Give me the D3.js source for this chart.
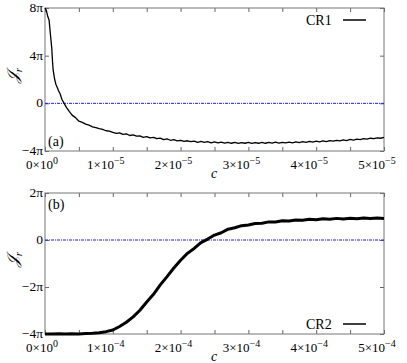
<!DOCTYPE html>
<html>
<head>
<meta charset="utf-8">
<script src="https://cdn.jsdelivr.net/npm/d3@7"></script>
<style>
  body { margin: 0; background: #fff; }
  text { font-family: "Liberation Serif", "DejaVu Serif", serif; }
</style>
</head>
<body>
<svg width="407" height="363"></svg>
<script>
    var width = 407;
    var height = 363;

    // panel (a): CR1, c in units of 1e-5, J in units of pi
    var cr1C = [0, 0.02, 0.04, 0.06, 0.07, 0.08, 0.09, 0.10, 0.11, 0.12, 0.14, 0.16, 0.18, 0.20, 0.22, 0.25,
      0.28, 0.32, 0.36, 0.40, 0.45, 0.50, 0.55, 0.60, 0.65, 0.70, 0.75, 0.80, 0.85, 0.90, 0.95,
      1.00, 1.05, 1.10, 1.15, 1.20, 1.25, 1.30, 1.35, 1.40, 1.45, 1.50, 1.55, 1.60, 1.65, 1.70, 1.75, 1.80, 1.85, 1.90, 1.95,
      2.00, 2.05, 2.10, 2.15, 2.20, 2.25, 2.30, 2.35, 2.40, 2.45, 2.50, 2.55, 2.60, 2.65, 2.70, 2.75, 2.80, 2.85, 2.90, 2.95,
      3.00, 3.05, 3.10, 3.15, 3.20, 3.25, 3.30, 3.35, 3.40, 3.45, 3.50, 3.55, 3.60, 3.65, 3.70, 3.75, 3.80, 3.85, 3.90, 3.95,
      4.00, 4.05, 4.10, 4.15, 4.20, 4.25, 4.30, 4.35, 4.40, 4.45, 4.50, 4.55, 4.60, 4.65, 4.70, 4.75, 4.80, 4.85, 4.90, 4.95, 5.00];
    var cr1J = [8.0, 7.8, 7.3, 7.0, 6.4, 5.8, 5.2, 4.6, 3.6, 2.8, 2.1, 1.6, 1.35, 1.05, 0.85, 0.32,
      0.02, -0.38, -0.7, -0.99, -1.2, -1.5, -1.6, -1.75, -1.83, -1.97, -2.03, -2.12, -2.19, -2.3, -2.33,
      -2.44, -2.52, -2.48, -2.60, -2.57, -2.70, -2.64, -2.76, -2.73, -2.85, -2.80, -2.90, -2.86, -2.97, -2.92, -3.04, -2.98, -3.10, -3.05, -3.15,
      -3.10, -3.20, -3.14, -3.22, -3.17, -3.27, -3.20, -3.28, -3.22, -3.31, -3.24, -3.32, -3.26, -3.34, -3.27, -3.35, -3.28, -3.36, -3.29, -3.35,
      -3.28, -3.36, -3.29, -3.35, -3.27, -3.35, -3.28, -3.34, -3.26, -3.34, -3.27, -3.32, -3.25, -3.31, -3.23, -3.29, -3.22, -3.28, -3.20, -3.26,
      -3.18, -3.24, -3.15, -3.21, -3.12, -3.18, -3.10, -3.15, -3.06, -3.12, -3.03, -3.08, -3.00, -3.05, -2.96, -3.01, -2.93, -2.97, -2.89, -2.93, -2.86];

    // panel (b): CR2, c in units of 1e-4, J in units of pi
    var cr2C = [0, 0.1, 0.2, 0.3, 0.4, 0.5, 0.6, 0.7, 0.8, 0.9, 1.0, 1.1, 1.2, 1.3, 1.4, 1.5, 1.6, 1.7, 1.8, 1.9,
      2.0, 2.1, 2.2, 2.3, 2.4, 2.5, 2.6, 2.7, 2.8, 2.9, 3.0, 3.1, 3.2, 3.3, 3.4, 3.5, 3.6, 3.7, 3.8, 3.9,
      4.0, 4.1, 4.2, 4.3, 4.4, 4.5, 4.6, 4.7, 4.8, 4.9, 5.0];
    var cr2J = [-4.0, -4.0, -3.99, -4.0, -3.99, -4.0, -3.98, -3.97, -3.95, -3.9, -3.83, -3.68, -3.5, -3.27, -2.99, -2.64, -2.31, -1.91, -1.56, -1.19,
      -0.86, -0.57, -0.36, -0.11, 0.04, 0.21, 0.31, 0.46, 0.52, 0.61, 0.64, 0.70, 0.71, 0.77, 0.77, 0.82, 0.81, 0.85, 0.84, 0.88,
      0.86, 0.90, 0.88, 0.92, 0.89, 0.93, 0.90, 0.94, 0.91, 0.94, 0.92];

    var xTicks = [0, 1, 2, 3, 4, 5];
    var xMinor = [0.5, 1.5, 2.5, 3.5, 4.5];
    var yTicksA = [8, 4, 0, -4];
    var yTicksB = [2, 0, -2, -4];
    var yLabelA = ['8π', '4π', '0', '−4π'];
    var yLabelB = ['2π', '0', '−2π', '−4π'];

    var svg = d3.select('svg');
    var left = 45, right = 384;

    function panel(o) {
      var xScale = d3.scaleLinear().domain([0, 5]).range([left, right]);
      var yScale = d3.scaleLinear().domain(o.yDomain).range([o.bottom, o.top]);
      var g = svg.append('g');
      var allX = xTicks.concat(xMinor);

      // inward ticks on all four sides
      g.append('g')
        .attr('transform', 'translate(' + [0, o.bottom] + ')')
        .call(d3.axisBottom(xScale).tickValues(allX).tickSize(-4).tickFormat(''));
      g.append('g')
        .attr('transform', 'translate(' + [0, o.top] + ')')
        .call(d3.axisTop(xScale).tickValues(allX).tickSize(-4).tickFormat(''));
      g.append('g')
        .attr('transform', 'translate(' + [left, 0] + ')')
        .call(d3.axisLeft(yScale).tickValues(o.yTicks).tickSize(-4).tickFormat(''));
      g.append('g')
        .attr('transform', 'translate(' + [right, 0] + ')')
        .call(d3.axisRight(yScale).tickValues(o.yTicks).tickSize(-4).tickFormat(''));
      g.selectAll('.domain').remove();
      g.selectAll('.tick line').attr('stroke', '#666');

      g.append('rect')
        .attr('x', left).attr('y', o.top)
        .attr('width', right - left).attr('height', o.bottom - o.top)
        .attr('fill', 'none').attr('stroke', '#777').attr('stroke-width', 1);

      // tick labels
      g.selectAll('.yl').data(o.yTicks).enter().append('text')
        .attr('x', left - 2).attr('y', d => yScale(d) + 4)
        .attr('text-anchor', 'end').attr('font-size', 13.5)
        .text((d, i) => o.yLabels[i]);

      var xl = g.selectAll('.xl').data(xTicks).enter().append('text')
        .attr('x', d => xScale(d) - (d === 0 ? 3 : 7)).attr('y', o.bottom + 18)
        .attr('text-anchor', 'middle').attr('font-size', 13);
      xl.append('tspan').text(d => d + '×10');
      xl.append('tspan').attr('dy', -5).attr('font-size', 10)
        .text(d => d === 0 ? '0' : '−' + o.exp);

      // zero line
      g.append('line')
        .attr('x1', left).attr('x2', right)
        .attr('y1', yScale(0)).attr('y2', yScale(0))
        .attr('stroke', '#1a1aff').attr('stroke-width', 1)
        .attr('stroke-dasharray', '3,1,1,1');

      // data line
      var line = d3.line()
        .x(d => xScale(d[0]))
        .y(d => yScale(d[1]));
      g.append('path')
        .attr('d', line(d3.zip(o.c, o.j)))
        .attr('fill', 'none')
        .attr('stroke', 'black')
        .attr('stroke-width', o.lw)
        .attr('stroke-linejoin', 'round');

      // axis labels
      g.append('text')
        .attr('x', 214).attr('y', o.bottom + 27)
        .attr('text-anchor', 'middle').attr('font-size', 14).attr('font-style', 'italic')
        .text('c');
      var yl = g.append('text')
        .attr('transform', 'translate(' + [18, (o.top + o.bottom) / 2 - 4] + ') rotate(-90)')
        .attr('text-anchor', 'middle').attr('font-size', 16);
      yl.append('tspan').attr('font-style', 'italic').text('𝒥');
      yl.append('tspan').attr('dy', 4).attr('font-size', 11).attr('font-style', 'italic').text('r');

      // panel tag
      g.append('text')
        .attr('x', 48).attr('y', o.tagY)
        .attr('font-size', 14).text(o.tag);

      // legend
      g.append('text')
        .attr('x', 306).attr('y', o.legY + 5)
        .attr('font-size', 14).text(o.name);
      g.append('line')
        .attr('x1', 343).attr('x2', 366)
        .attr('y1', o.legY).attr('y2', o.legY)
        .attr('stroke', 'black').attr('stroke-width', 1.5);
    }

    panel({top: 8, bottom: 151, yDomain: [-4, 8], yTicks: yTicksA, yLabels: yLabelA,
      c: cr1C, j: cr1J, lw: 1.3, exp: '5', tag: '(a)', tagY: 146, name: 'CR1', legY: 20});
    panel({top: 193, bottom: 334, yDomain: [-4, 2], yTicks: yTicksB, yLabels: yLabelB,
      c: cr2C, j: cr2J, lw: 3, exp: '4', tag: '(b)', tagY: 209, name: 'CR2', legY: 324});
</script>
</body>
</html>
